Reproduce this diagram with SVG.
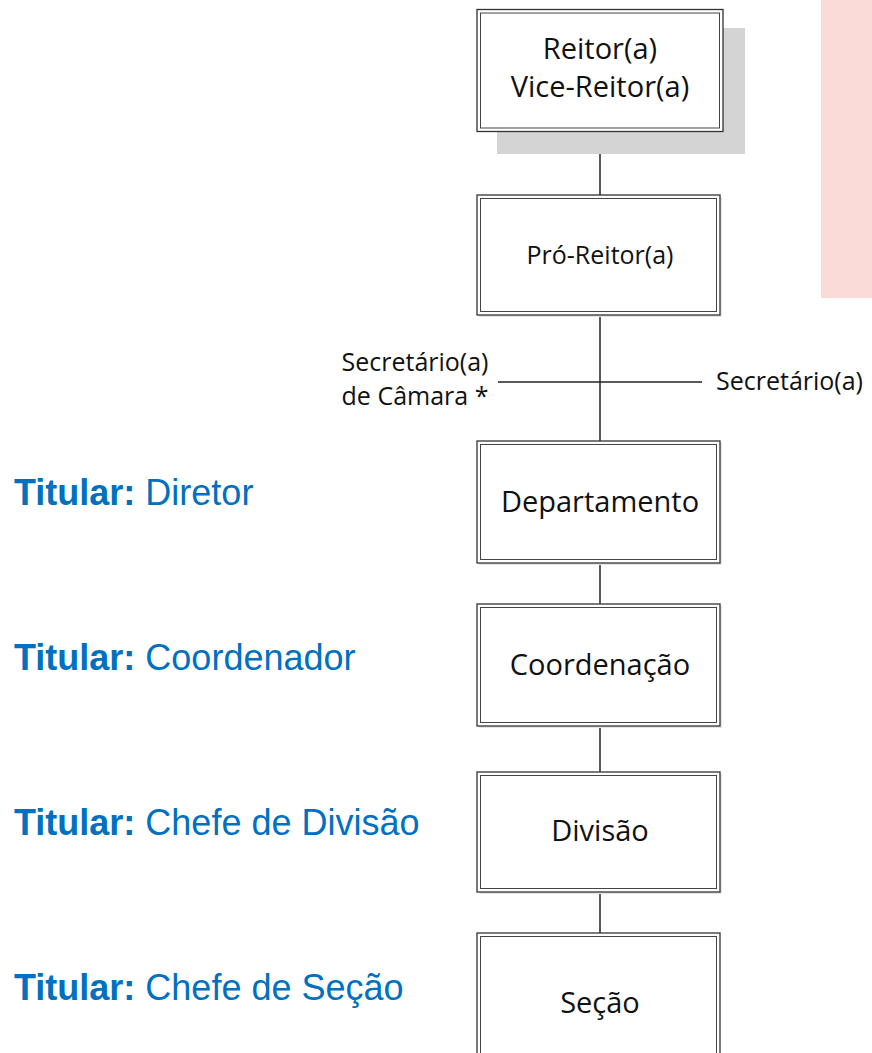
<svg xmlns="http://www.w3.org/2000/svg" width="872" height="1053" viewBox="0 0 872 1053">
<style>
.box{fill:#fff;stroke:#333;stroke-width:1.3}
.inner{fill:none;stroke:#444;stroke-width:1}
.sh{fill:#e4e4e4}
.bt{font-family:"Open Sans",sans-serif;font-size:29px;fill:#111;text-anchor:middle}
.st{font-family:"Open Sans",sans-serif;font-size:25px;fill:#111}
.tit{font-family:"Liberation Sans",Arial,sans-serif;font-size:36px;fill:#0070C0}
.con{stroke:#222;stroke-width:1.5;fill:none}
</style>
<rect x="821" y="0" width="51" height="298" fill="#FADBD8"/>
<g id="connectors">
<line class="con" x1="600" y1="132" x2="600" y2="195"/>
<line class="con" x1="600" y1="315" x2="600" y2="441"/>
<line class="con" x1="498" y1="382" x2="702" y2="382"/>
<line class="con" x1="600" y1="563" x2="600" y2="604"/>
<line class="con" x1="600" y1="726" x2="600" y2="772"/>
<line class="con" x1="600" y1="892" x2="600" y2="933"/>
</g>
<g id="reitor">
<rect x="497" y="28" width="248" height="126" fill="#d4d4d4"/>
<rect class="box" x="477" y="9.5" width="246" height="122" stroke-width="1.8" stroke="#111"/>
<rect class="inner" x="480.5" y="13" width="239" height="115" stroke="#222" stroke-width="1.5"/>
<text class="bt" x="600" y="59" font-size="28">Reitor(a)</text>
<text class="bt" x="600" y="97" font-size="28">Vice-Reitor(a)</text>
</g>
<g id="proreitor">
<rect class="sh" x="479" y="197" width="243" height="120"/>
<rect class="box" x="477" y="195" width="243" height="120"/>
<rect class="inner" x="480.5" y="198.5" width="236" height="113"/>
<text class="st" x="600" y="264" text-anchor="middle">Pró-Reitor(a)</text>
</g>
<g id="secretarios">
<text class="st" x="415" y="371" text-anchor="middle">Secretário(a)</text>
<text class="st" x="415" y="405" text-anchor="middle">de Câmara *</text>
<text class="st" x="716" y="390">Secretário(a)</text>
</g>
<g id="departamento">
<rect class="sh" x="479" y="443" width="243" height="122"/>
<rect class="box" x="477" y="441" width="243" height="122"/>
<rect class="inner" x="480.5" y="444.5" width="236" height="115"/>
<text class="bt" x="600" y="512">Departamento</text>
</g>
<g id="coordenacao">
<rect class="sh" x="479" y="606" width="243" height="122"/>
<rect class="box" x="477" y="604" width="243" height="122"/>
<rect class="inner" x="480.5" y="607.5" width="236" height="115"/>
<text class="bt" x="600" y="675">Coordenação</text>
</g>
<g id="divisao">
<rect class="sh" x="479" y="774" width="243" height="120"/>
<rect class="box" x="477" y="772" width="243" height="120"/>
<rect class="inner" x="480.5" y="775.5" width="236" height="113"/>
<text class="bt" x="600" y="841">Divisão</text>
</g>
<g id="secao">
<rect class="box" x="477" y="933" width="243" height="130"/>
<rect class="inner" x="480.5" y="936.5" width="236" height="130"/>
<text class="bt" x="600" y="1013">Seção</text>
</g>
<g id="titulares">
<text class="tit" x="14" y="505"><tspan font-weight="bold">Titular:</tspan> Diretor</text>
<text class="tit" x="14" y="670"><tspan font-weight="bold">Titular:</tspan> Coordenador</text>
<text class="tit" x="14" y="835"><tspan font-weight="bold">Titular:</tspan> Chefe de Divisão</text>
<text class="tit" x="14" y="1000"><tspan font-weight="bold">Titular:</tspan> Chefe de Seção</text>
</g>
</svg>
